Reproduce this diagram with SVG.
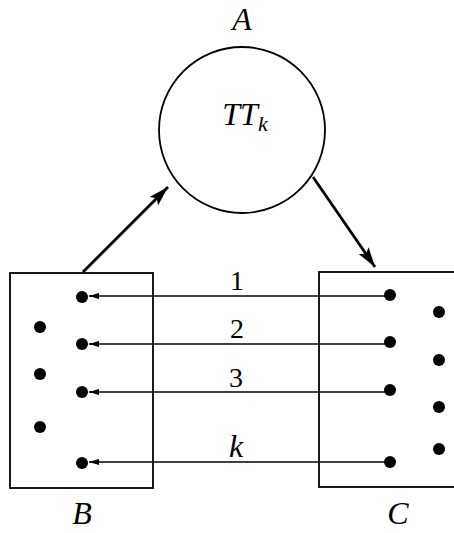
<svg xmlns="http://www.w3.org/2000/svg" width="454" height="533" viewBox="0 0 454 533">
<style>
.lbl{font-family:"Liberation Serif","Times New Roman",serif;font-style:italic;font-size:32px;fill:#000;text-anchor:middle}
.num{font-family:"Liberation Serif","Times New Roman",serif;font-size:28px;fill:#000;text-anchor:middle}
.shape{fill:#fff;stroke:#000;stroke-width:1.8}
.dot{fill:#000}
.thick{stroke:#000;stroke-width:2.8;fill:none}
.thin{stroke:#000;stroke-width:1.4;fill:none}
</style>
<defs>
<marker id="big" viewBox="0 0 20 12" refX="20" refY="6" markerWidth="20" markerHeight="12" markerUnits="userSpaceOnUse" orient="auto">
<path d="M0,0 L20,6 L0,12 L4,6 Z" fill="#000"/>
</marker>
<marker id="small" viewBox="0 0 10 6" refX="10" refY="3" markerWidth="10" markerHeight="6" markerUnits="userSpaceOnUse" orient="auto">
<path d="M0,0 L10,3 L0,6 Z" fill="#000"/>
</marker>
</defs>
<rect width="454" height="533" fill="#fff"/>
<g id="A">
<circle class="shape" cx="242" cy="130" r="83"/>
<text class="lbl" x="242" y="30">A</text>
<text class="lbl" x="245" y="125">TT<tspan font-size="22" dy="6">k</tspan></text>
</g>
<g id="B">
<rect class="shape" x="10" y="273" width="143" height="215"/>
<circle class="dot" cx="82" cy="297" r="6"/>
<circle class="dot" cx="82" cy="344" r="6"/>
<circle class="dot" cx="82" cy="392" r="6"/>
<circle class="dot" cx="82" cy="463" r="6"/>
<circle class="dot" cx="40" cy="327" r="6"/>
<circle class="dot" cx="40" cy="374" r="6"/>
<circle class="dot" cx="40" cy="427" r="6"/>
<text class="lbl" x="82" y="524">B</text>
</g>
<g id="C">
<rect class="shape" x="319" y="272" width="140" height="215"/>
<circle class="dot" cx="390" cy="295" r="6"/>
<circle class="dot" cx="390" cy="342" r="6"/>
<circle class="dot" cx="390" cy="390" r="6"/>
<circle class="dot" cx="390" cy="462" r="6"/>
<circle class="dot" cx="439" cy="312" r="6"/>
<circle class="dot" cx="439" cy="360" r="6"/>
<circle class="dot" cx="439" cy="407" r="6"/>
<circle class="dot" cx="439" cy="449" r="6"/>
<text class="lbl" x="398" y="524">C</text>
</g>
<g id="connectors">
<line class="thick" x1="83" y1="272" x2="168" y2="187" marker-end="url(#big)"/>
<line class="thick" x1="313" y1="177" x2="375" y2="267" marker-end="url(#big)"/>
<line class="thin" x1="390" y1="296" x2="89" y2="296" marker-end="url(#small)"/>
<line class="thin" x1="390" y1="344" x2="89" y2="344" marker-end="url(#small)"/>
<line class="thin" x1="390" y1="392" x2="89" y2="392" marker-end="url(#small)"/>
<line class="thin" x1="390" y1="462" x2="89" y2="462" marker-end="url(#small)"/>
<text class="num" x="237" y="290">1</text>
<text class="num" x="237" y="338">2</text>
<text class="num" x="236" y="387">3</text>
<text class="lbl" x="236" y="457" font-size="28">k</text>
</g>
</svg>
